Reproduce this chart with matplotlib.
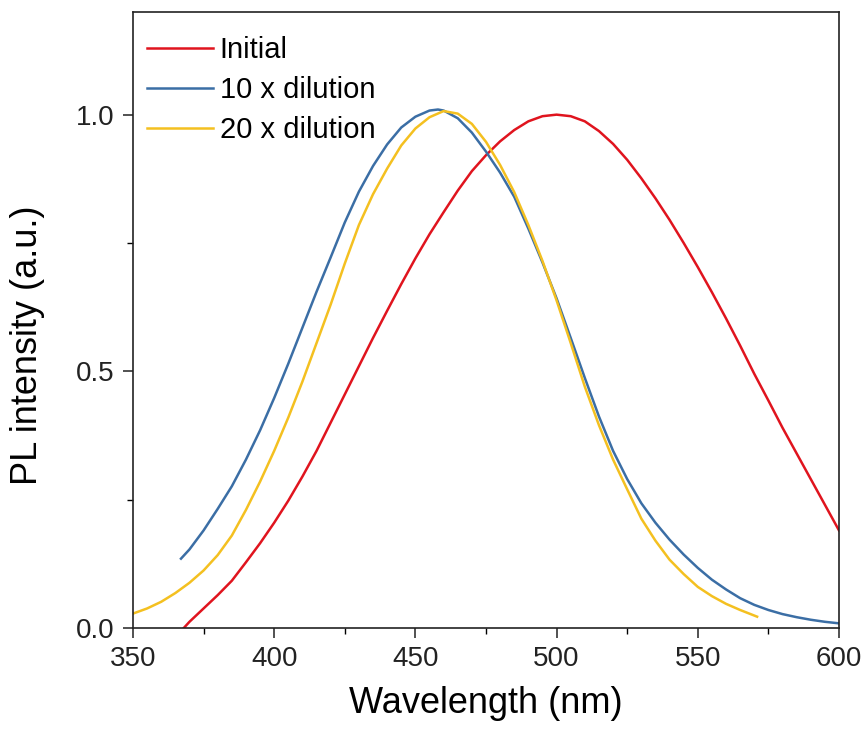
import matplotlib
matplotlib.use("Agg")
import matplotlib.pyplot as plt
from matplotlib.ticker import MultipleLocator

plt.rcParams['font.family'] = ['Liberation Sans', 'DejaVu Sans']

# Initial
wl_initial = [368, 370, 375, 380, 385, 390, 395, 400, 405, 410, 415, 420, 425, 430, 435, 440,
              445, 450, 455, 460, 465, 470, 475, 480, 485, 490, 495, 500, 505, 510, 515, 520,
              525, 530, 535, 540, 545, 550, 555, 560, 565, 570, 575, 580, 585, 590, 595, 600]
pl_initial = [0.0, 0.012, 0.038, 0.064, 0.092, 0.128, 0.165, 0.205, 0.248, 0.295, 0.345, 0.4,
              0.455, 0.51, 0.565, 0.618, 0.67, 0.72, 0.767, 0.81, 0.852, 0.89, 0.921, 0.948,
              0.97, 0.987, 0.997, 1.0, 0.997, 0.987, 0.968, 0.943, 0.912, 0.876, 0.837, 0.795,
              0.75, 0.703, 0.654, 0.603, 0.55, 0.495, 0.443, 0.39, 0.34, 0.29, 0.24, 0.19]

# 10 x dilution
wl_10x = [367, 370, 375, 380, 385, 390, 395, 400, 405, 410, 415, 420, 425, 430, 435, 440,
          445, 450, 455, 458, 460, 465, 470, 475, 480, 485, 490, 495, 500, 505, 510, 515,
          520, 525, 530, 535, 540, 545, 550, 555, 560, 565, 570, 575, 580, 585, 590, 595, 600]
pl_10x = [0.135, 0.153, 0.19, 0.232, 0.276, 0.328, 0.385, 0.448, 0.515, 0.585, 0.655, 0.722,
          0.79, 0.85, 0.9, 0.942, 0.975, 0.996, 1.008, 1.01, 1.008, 0.993, 0.965, 0.928,
          0.887, 0.84, 0.778, 0.712, 0.642, 0.565, 0.487, 0.412, 0.345, 0.29, 0.243, 0.205,
          0.172, 0.143, 0.117, 0.094, 0.075, 0.058, 0.045, 0.035, 0.027, 0.021, 0.016,
          0.012, 0.009]

# 20 x dilution
wl_20x = [350, 355, 360, 365, 370, 375, 380, 385, 390, 395, 400, 405, 410, 415, 420, 425,
          430, 435, 440, 445, 450, 455, 460, 465, 470, 475, 480, 485, 490, 495, 500, 505,
          510, 515, 520, 525, 530, 535, 540, 545, 550, 555, 560, 565, 571]
pl_20x = [0.028, 0.038, 0.051, 0.068, 0.088, 0.112, 0.142, 0.18, 0.23, 0.285, 0.345, 0.41,
          0.48, 0.555, 0.63, 0.71, 0.785, 0.845, 0.895, 0.94, 0.973, 0.995, 1.007, 1.002,
          0.982, 0.947, 0.902, 0.849, 0.785, 0.715, 0.638, 0.555, 0.47, 0.395, 0.328, 0.27,
          0.213, 0.17, 0.133, 0.105, 0.08, 0.062, 0.047, 0.035, 0.022]

labels = ["Initial", "10 x dilution", "20 x dilution"]
colors = ["#e0141e", "#3b6ea5", "#f4c020"]

fig = plt.figure(figsize=(8.68, 7.40), dpi=100)
ax = fig.add_axes([0.1532, 0.1514, 0.9666 - 0.1532, 0.9838 - 0.1514])

for wl, pl, lab, c in zip([wl_initial, wl_10x, wl_20x], [pl_initial, pl_10x, pl_20x], labels, colors):
    ax.plot(wl, pl, color=c, lw=1.8, label=lab, solid_joinstyle='round')

ax.set_xlim(350, 600)
ax.set_ylim(0, 1.2)
ax.set_xticks([350, 400, 450, 500, 550, 600])
ax.set_yticks([0.0, 0.5, 1.0])
ax.xaxis.set_minor_locator(MultipleLocator(25))
ax.yaxis.set_minor_locator(MultipleLocator(0.25))
ax.tick_params(which='major', direction='out', length=7, width=1.1, labelsize=20, colors='#222222', pad=6)
ax.tick_params(which='minor', direction='out', length=4, width=1.0)
ax.tick_params(top=False, right=False, which='both')
for s in ax.spines.values():
    s.set_linewidth(1.2)
    s.set_color('#222222')

ax.set_xlabel("Wavelength (nm)", fontsize=26, labelpad=10)
ax.set_ylabel("PL intensity (a.u.)", fontsize=26)
ax.yaxis.set_label_coords(-0.124, 0.459)

ax.legend(loc='upper left', bbox_to_anchor=(0.0198, 0.961), frameon=False, fontsize=21,
          handlelength=2.26, handletextpad=0.24, labelspacing=0.41, borderaxespad=0,
          borderpad=0)

fig.savefig("out.png", dpi=100)
